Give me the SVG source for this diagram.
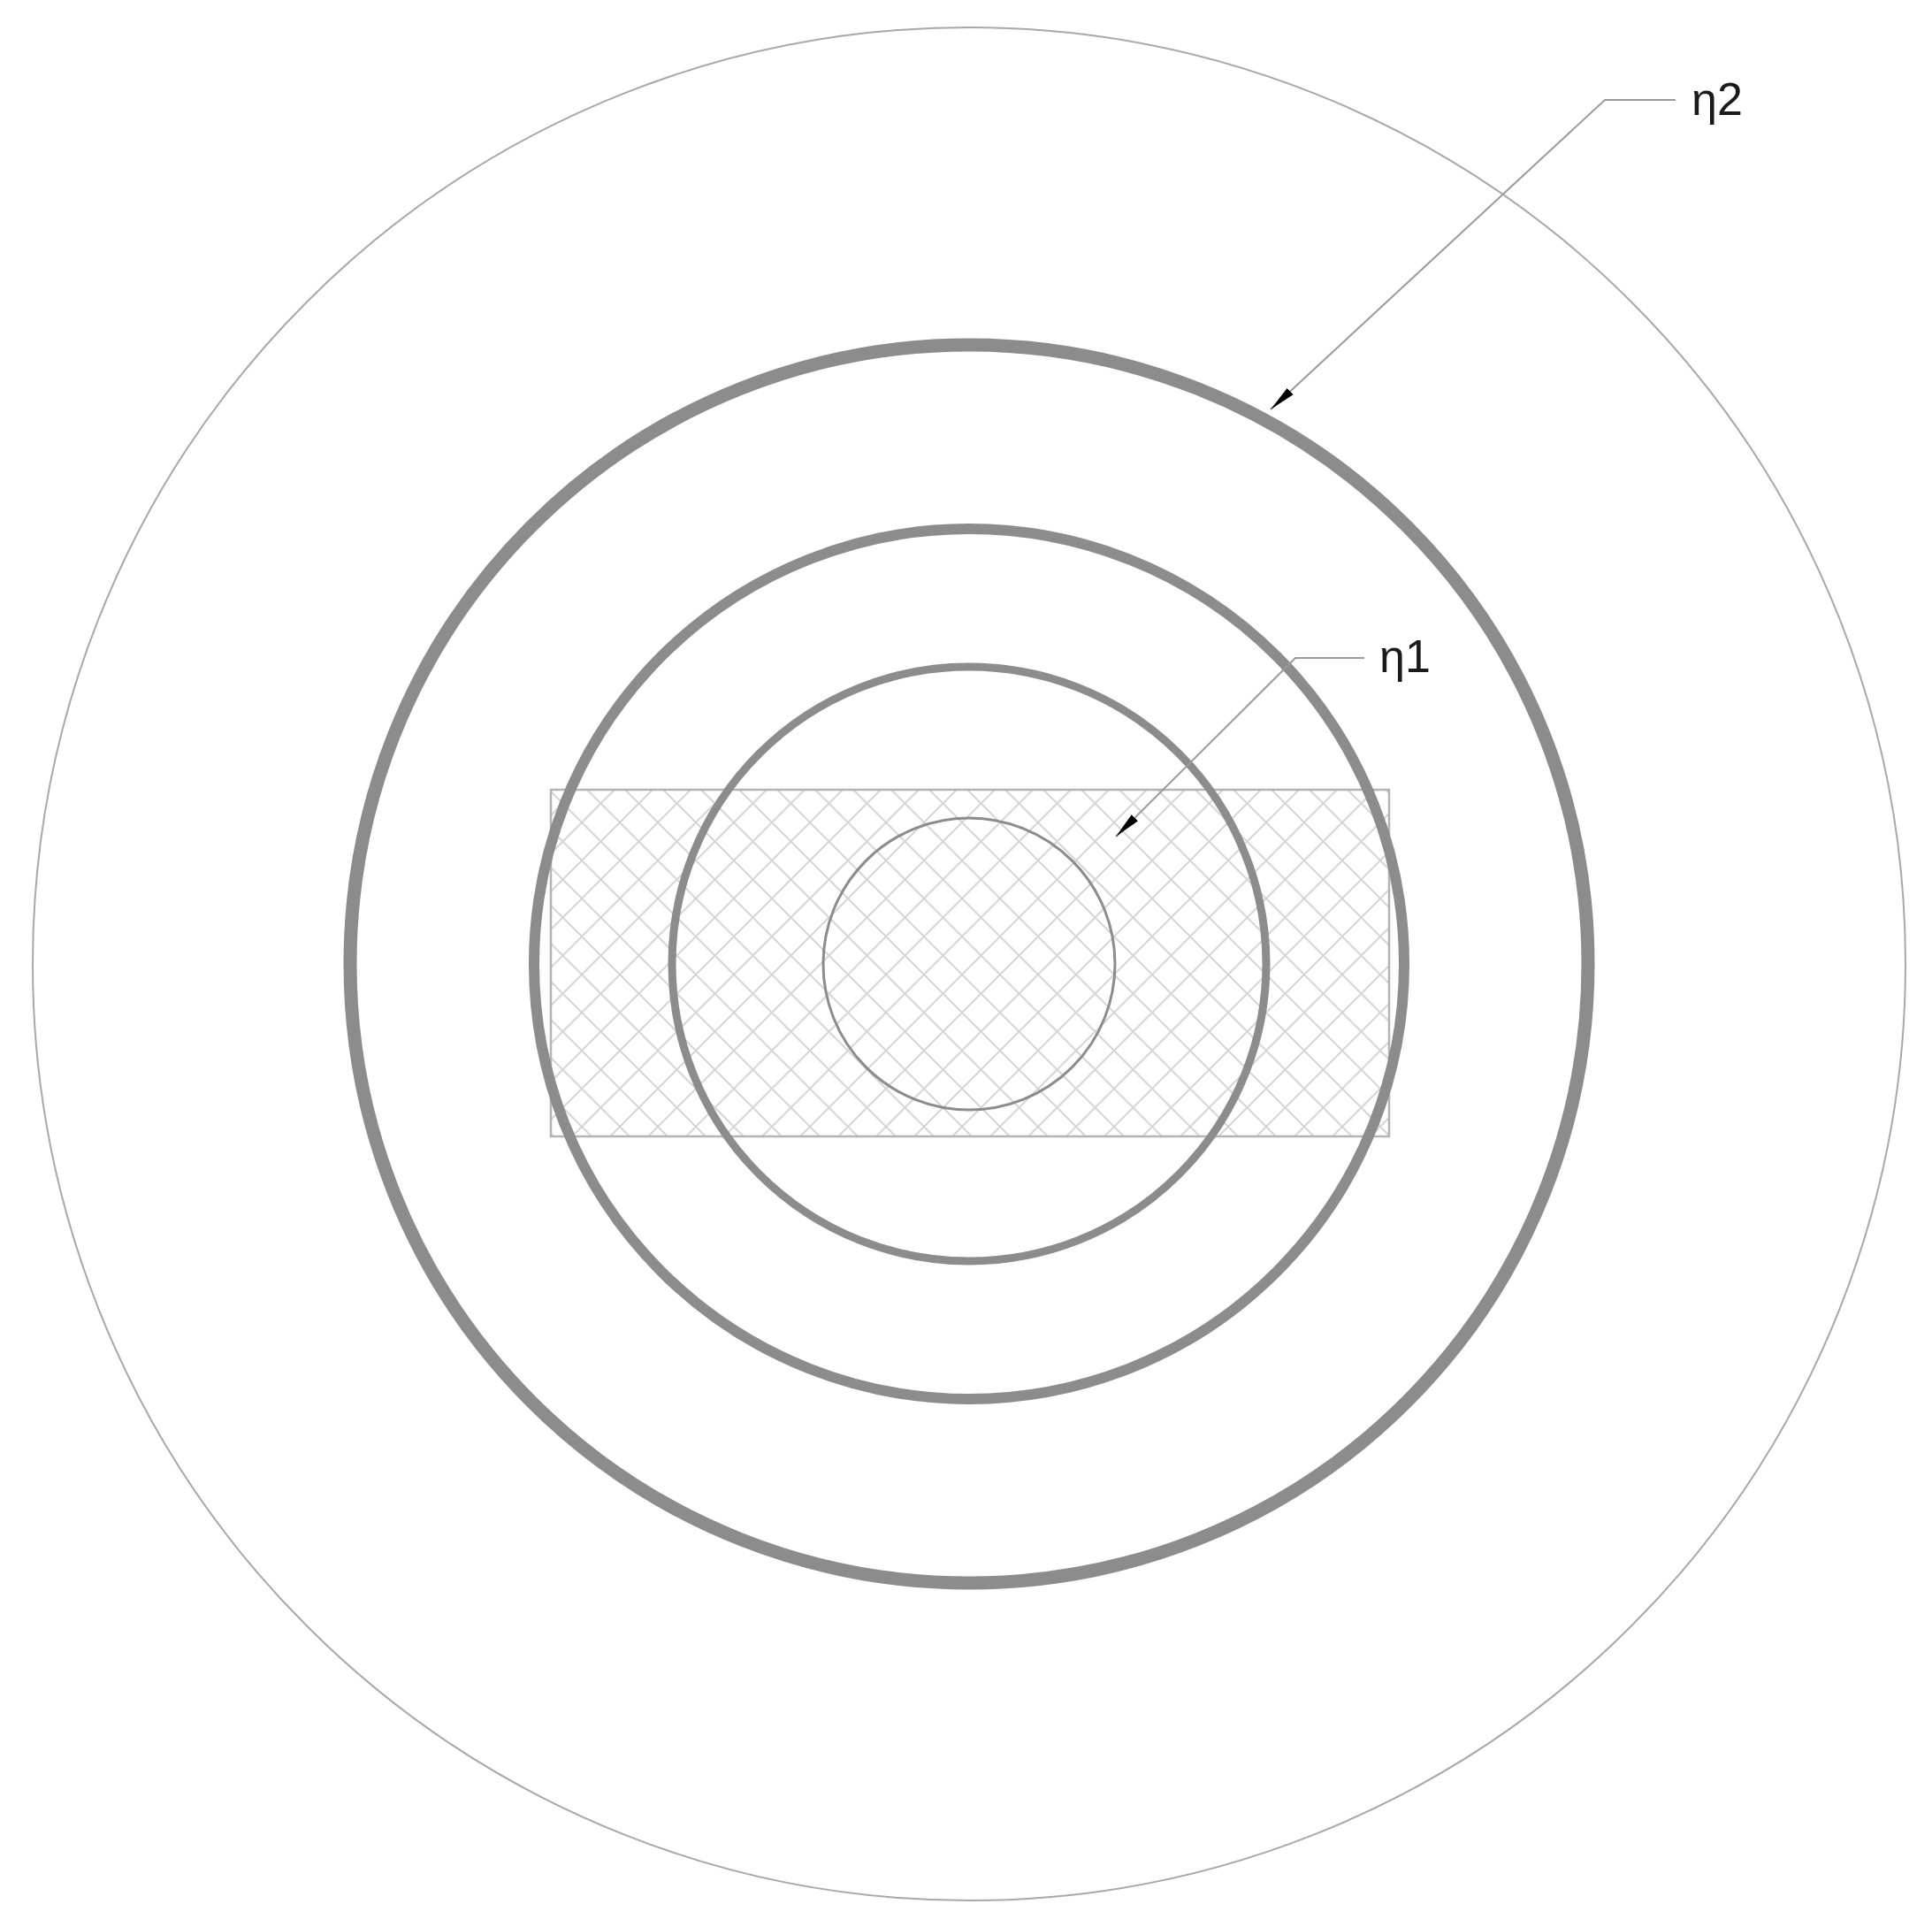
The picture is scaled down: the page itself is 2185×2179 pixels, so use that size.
<svg xmlns="http://www.w3.org/2000/svg" width="2185" height="2179" viewBox="0 0 2185 2179">
  <style>
    .ring { fill: none; stroke: #8c8c8c; }
    .leader { fill: none; stroke: #9a9a9a; stroke-width: 2; }
    .label { font-family: "Liberation Sans", Arial, sans-serif; font-size: 52px; fill: #1a1a1a; }
  </style>
  <defs>
    <pattern id="cross" patternUnits="userSpaceOnUse" x="658" y="930" width="43" height="43">
      <path d="M-43,0 L43,86 M0,0 L43,43 M0,-43 L86,43 M43,-43 L-43,43 M43,0 L0,43 M86,0 L0,86" stroke="#d6d6d6" stroke-width="2" fill="none"/>
    </pattern>
    <marker id="arrow" markerUnits="userSpaceOnUse" markerWidth="34" markerHeight="14" refX="30" refY="6" orient="auto">
      <path d="M0,1 L30,6 L0,11 Q-2,6 0,1 z" fill="#000"/>
    </marker>
  </defs>
  <rect width="2185" height="2179" fill="#fff"/>

  <g id="outer-circle">
    <circle cx="1096" cy="1090" r="1059" fill="none" stroke="#a8a8a8" stroke-width="2"/>
  </g>

  <g id="hatched-zone">
    <rect x="623" y="893" width="948" height="392" fill="url(#cross)" stroke="#b4b4b4" stroke-width="2.5"/>
  </g>

  <g id="ring-eta2">
    <circle class="ring" cx="1096" cy="1090" r="700" stroke-width="15"/>
  </g>
  <g id="ring-3">
    <circle class="ring" cx="1096" cy="1090" r="492" stroke-width="12"/>
  </g>
  <g id="ring-4">
    <circle class="ring" cx="1096" cy="1090" r="336" stroke-width="9"/>
  </g>
  <g id="ring-inner">
    <circle class="ring" cx="1096" cy="1090" r="165" stroke-width="3"/>
  </g>

  <g id="connectors">
    <path class="leader" d="M1895,113 L1815,113 L1437,463" marker-end="url(#arrow)"/>
    <path class="leader" d="M1543,744 L1465,744 L1262,946" marker-end="url(#arrow)"/>
  </g>

  <g id="label-eta2">
    <text class="label" x="1913" y="130">η2</text>
  </g>
  <g id="label-eta1">
    <text class="label" x="1560" y="760">η1</text>
  </g>
</svg>
